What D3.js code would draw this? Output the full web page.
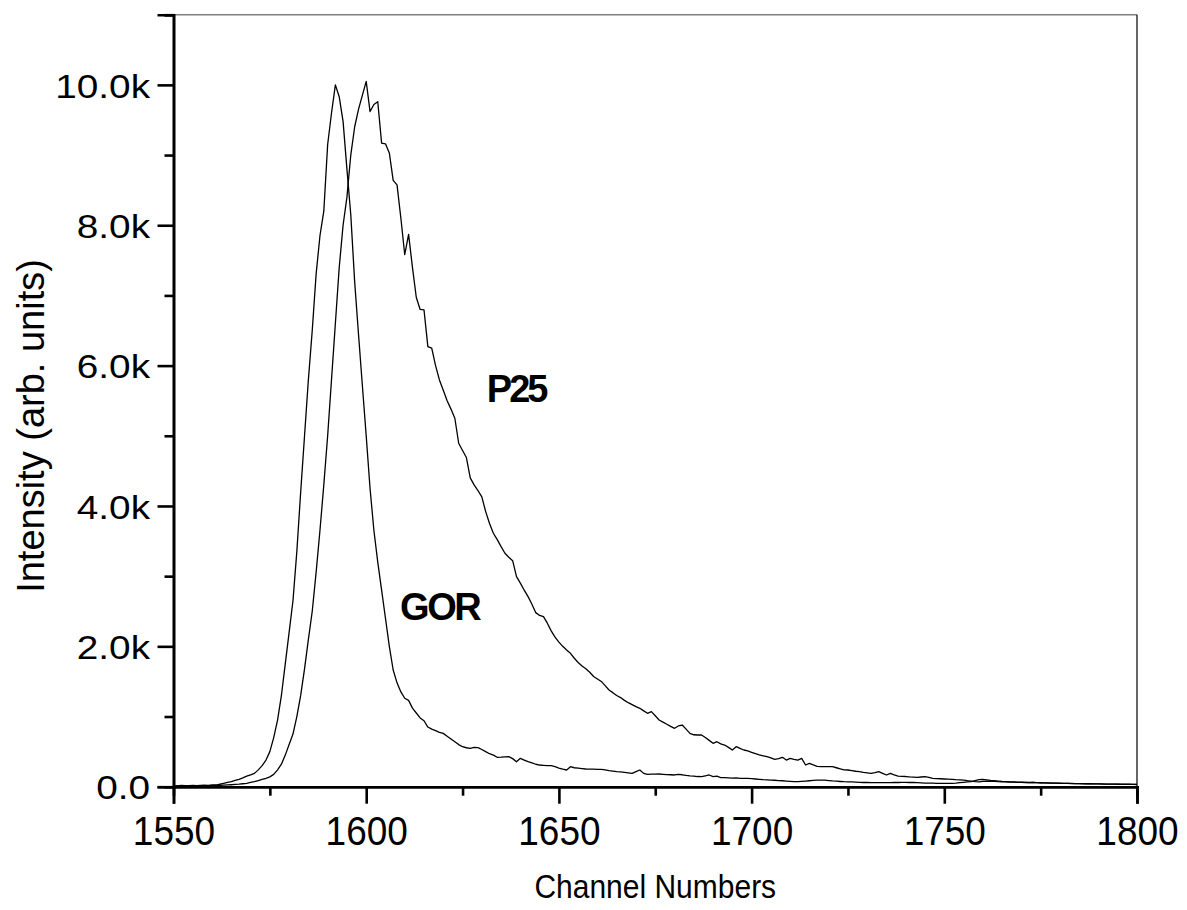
<!DOCTYPE html>
<html>
<head>
<meta charset="utf-8">
<script src="https://d3js.org/d3.v7.min.js"></script>
<style>
  html, body { margin: 0; padding: 0; background: #fff; }
  svg { display: block; }
  text { font-family: "Liberation Sans", Arial, sans-serif; fill: #000; }
</style>
</head>
<body>
<div id="chart"></div>
<script>
// ---------------- DATA ----------------
const channelStart = 1550;          // first channel of the series
const channelEnd = 1800;            // last channel
const xMajorTicks = [1550, 1600, 1650, 1700, 1750, 1800];
const xMinorTicks = [1575, 1625, 1675, 1725, 1775];
const yMajorTicks = [0, 2000, 4000, 6000, 8000, 10000];
const yMinorTicks = [1000, 3000, 5000, 7000, 9000, 11000];
const yTickLabels = ["0.0", "2.0k", "4.0k", "6.0k", "8.0k", "10.0k"];

// GOR intensity, one value per channel 1550..1800
const gorValues = [
  15, 12, 18, 14, 16, 20, 15, 18, 22, 20,
  24, 24, 35, 48, 60, 72, 90, 105, 125, 150,
  170, 190, 240, 300, 380, 500, 700, 950, 1300, 1750,
  2200, 2650, 3350, 4200, 5000, 5800, 6500, 7300, 7850, 8200,
  9150, 9600, 10000, 9830, 9480, 8800, 8150, 7200, 6450, 5720,
  5000, 4250, 3650, 3200, 2800, 2400, 2000, 1663, 1480, 1350,
  1260, 1230, 1120, 1050, 980, 940, 850, 820, 800, 775,
  760, 720, 680, 641, 600, 570, 555, 547, 560, 556,
  530, 499, 470, 450, 419, 420, 425, 428, 400, 356,
  404, 380, 356, 340, 320, 309, 305, 300, 299, 285,
  265, 250, 238, 285, 270, 265, 258, 252, 250, 250,
  248, 248, 240, 230, 222, 214, 210, 205, 198, 191,
  215, 238, 190, 177, 178, 180, 181, 176, 172, 170,
  167, 177, 170, 160, 155, 152, 145, 143, 155, 167,
  143, 150, 130, 128, 125, 122, 125, 120, 118, 120,
  115, 110, 105, 100, 98, 95, 92, 88, 85, 80,
  76, 73, 71, 75, 80, 85, 90, 93, 95, 95,
  88, 82, 78, 74, 71, 70, 68, 66, 63, 60,
  62, 58, 57, 59, 57, 57, 58, 60, 60, 62,
  62, 60, 62, 58, 55, 52, 50, 50, 48, 47,
  48, 47, 48, 52, 58, 63, 68, 71, 85, 100,
  105, 98, 90, 85, 80, 75, 72, 70, 68, 66,
  64, 62, 60, 62, 58, 56, 55, 54, 52, 50,
  50, 48, 47, 46, 45, 44, 43, 42, 42, 41,
  40, 39, 38, 38, 37, 36, 36, 35, 35, 34,
  34
];

// P25 intensity, one value per channel 1550..1800
const p25Values = [
  8, 10, 9, 12, 10, 11, 13, 12, 14, 15,
  15, 18, 20, 22, 25, 28, 32, 36, 42, 48,
  60, 72, 88, 105, 120, 140, 175, 240, 320, 450,
  600, 750, 1000, 1300, 1680, 2100, 2500, 3050, 3650, 4300,
  5000, 5800, 6600, 7400, 8000, 8400, 9000, 9400, 9650, 9850,
  10050, 9620, 9720, 9760, 9170, 9160, 9030, 8640, 8575, 8100,
  7580, 7870, 7400, 6970, 6800, 6793, 6271, 6248, 6000, 5796,
  5650, 5500, 5380, 5250, 4894, 4790, 4690, 4400, 4300, 4220,
  4130, 3920, 3750, 3611, 3520, 3420, 3326, 3270, 3220, 2993,
  2900, 2800, 2708, 2600, 2480, 2440, 2423, 2330, 2220, 2130,
  2060, 2000, 1948, 1900, 1830, 1770, 1720, 1680, 1630, 1570,
  1535, 1500, 1440, 1378, 1340, 1300, 1270, 1230, 1197, 1170,
  1140, 1117, 1080, 1046, 1069, 1010, 951, 920, 890, 860,
  832, 865, 879, 820, 760, 740, 737, 737, 700, 660,
  618, 641, 610, 594, 560, 523, 570, 545, 523, 510,
  490, 470, 452, 440, 428, 410, 390, 400, 419, 380,
  404, 390, 380, 404, 309, 333, 310, 290, 285, 285,
  285, 285, 270, 255, 240, 238, 230, 220, 214, 205,
  198, 191, 200, 214, 190, 167, 191, 170, 152, 148,
  145, 140, 137, 134, 138, 143, 132, 120, 116, 113,
  110, 108, 105, 100, 97, 95, 85, 78, 71, 70,
  75, 78, 80, 76, 72, 70, 68, 66, 65, 63,
  62, 60, 58, 60, 57, 55, 54, 52, 51, 50,
  48, 47, 46, 45, 44, 43, 42, 41, 40, 40,
  39, 38, 37, 36, 36, 35, 34, 33, 32, 32,
  31
];

// annotation anchors (channel, intensity) for the series names
const seriesLabels = [
  { name: "P25", channel: 1631.3, value: 5480, spacing: -3 },
  { name: "GOR", channel: 1608.8, value: 2376, spacing: -2.5 }
];

// ---------------- CHART ----------------
const W = 1187, H = 910;
const plot = { left: 173.5, right: 1137, top: 14.7, bottom: 786.7 };
const FONT = '"Liberation Sans", Arial, sans-serif';

const svg = d3.select("#chart").append("svg").attr("width", W).attr("height", H);

const x = d3.scaleLinear().domain([channelStart, channelEnd]).range([plot.left, plot.right]);
const y = d3.scaleLinear().domain([0, 11000]).range([plot.bottom, plot.top]);

// frame: top (gray) and right (black)
svg.append("line").attr("x1", plot.left).attr("x2", plot.right)
  .attr("y1", plot.top).attr("y2", plot.top)
  .attr("stroke", "#808080").attr("stroke-width", 1.5);
svg.append("line").attr("x1", plot.right).attr("x2", plot.right)
  .attr("y1", plot.top).attr("y2", plot.bottom)
  .attr("stroke", "#000").attr("stroke-width", 1.2);

// curves
const line = d3.line()
  .x((d, i) => x(channelStart + i))
  .y(d => y(d));

svg.append("path").datum(gorValues).attr("d", line)
  .attr("fill", "none").attr("stroke", "#000").attr("stroke-width", 1.3)
  .attr("stroke-linejoin", "round");
svg.append("path").datum(p25Values).attr("d", line)
  .attr("fill", "none").attr("stroke", "#000").attr("stroke-width", 1.3)
  .attr("stroke-linejoin", "round");

// x axis
const xMinorAxis = d3.axisBottom(x).tickValues(xMinorTicks).tickSize(9).tickFormat("");
const gxm = svg.append("g").attr("transform", `translate(0,${plot.bottom})`).call(xMinorAxis);
const xAxis = d3.axisBottom(x).tickValues(xMajorTicks).tickSize(17)
  .tickFormat(d3.format("d"));
const gx = svg.append("g").attr("transform", `translate(0,${plot.bottom})`).call(xAxis);

// y axis
const yMinorAxis = d3.axisLeft(y).tickValues(yMinorTicks).tickSize(9).tickFormat("");
const gym = svg.append("g").attr("transform", `translate(${plot.left},0)`).call(yMinorAxis);
const yAxis = d3.axisLeft(y).tickValues(yMajorTicks).tickSize(16)
  .tickFormat((d, i) => yTickLabels[i]);
const gy = svg.append("g").attr("transform", `translate(${plot.left},0)`).call(yAxis);

[gx, gxm, gy, gym].forEach(g => {
  g.select(".domain").attr("stroke", "#000").attr("stroke-width", 2.6);
  g.selectAll(".tick line").attr("stroke", "#000").attr("stroke-width", 2.6);
});
gx.selectAll(".tick text")
  .attr("font-size", 37).attr("fill", "#000").attr("font-family", FONT)
  .attr("y", 0).attr("dy", 0)
  .attr("transform", "translate(0,58.5) scale(1,1.1)");
gy.selectAll(".tick text")
  .attr("font-size", 34).attr("fill", "#000").attr("font-family", FONT)
  .attr("x", 0).attr("dy", 0)
  .attr("transform", "translate(-23.5,12.2) scale(1.14,1)");

// axis titles
svg.append("text")
  .attr("transform", `translate(${(plot.left + plot.right) / 2},898) scale(1,1.12)`)
  .attr("text-anchor", "middle").attr("font-size", 30)
  .text("Channel Numbers");
svg.append("text")
  .attr("transform", `translate(44,${(260 + 592) / 2}) rotate(-90)`)
  .attr("text-anchor", "middle").attr("font-size", 38)
  .text("Intensity (arb. units)");

// series labels
svg.selectAll(".series-label").data(seriesLabels).enter().append("text")
  .attr("class", "series-label")
  .attr("x", d => x(d.channel)).attr("y", d => y(d.value))
  .attr("font-size", 38).attr("font-weight", "bold")
  .attr("letter-spacing", d => d.spacing)
  .text(d => d.name);
</script>
</body>
</html>
